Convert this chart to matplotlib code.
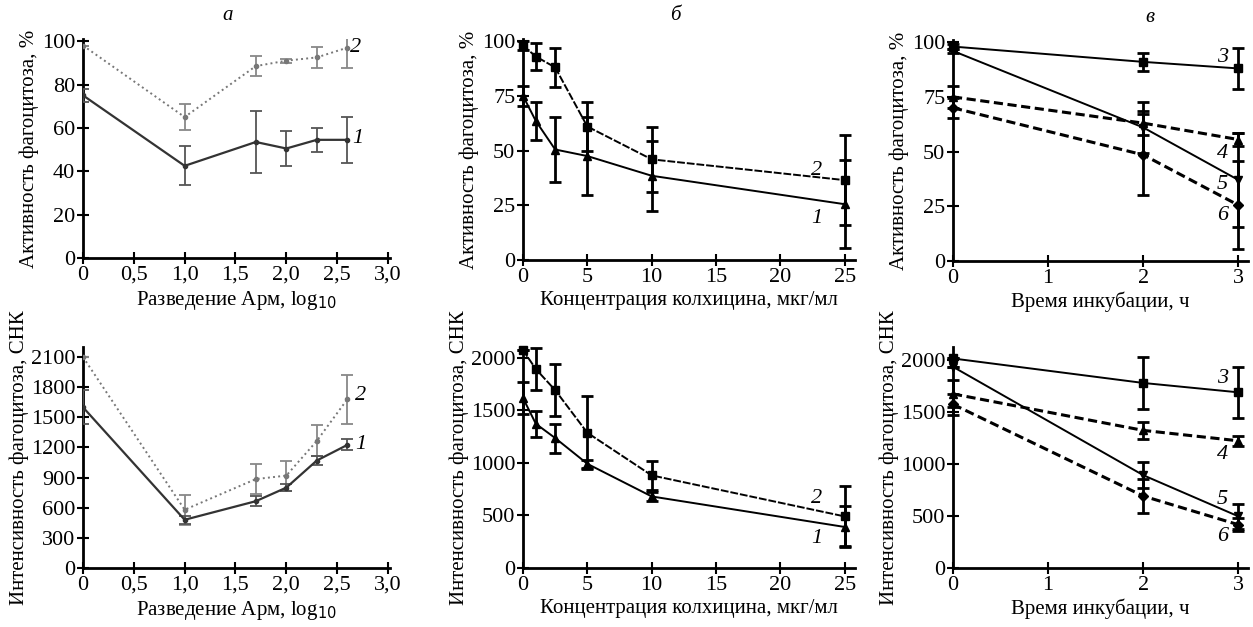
import matplotlib
matplotlib.use('Agg')
import matplotlib.pyplot as plt

plt.rcParams['font.family'] = ['Liberation Serif', 'DejaVu Serif']
plt.rcParams['font.size'] = 13

# panel a: dilution of Arm, log10
a_x = [0, 1.0, 1.7, 2.0, 2.3, 2.6]
a_act_2 = [98, 65, 88.5, 91, 92.5, 97]
a_act_2_err = [0, 6, 4.5, 1, 5, 9.5]
a_act_1 = [75, 42.5, 53.5, 50.5, 54.5, 54.5]
a_act_1_err = [3, 9, 14.5, 8, 5.5, 10.5]
a_int_2 = [2100, 580, 885, 920, 1265, 1680]
a_int_2_err = [0, 150, 150, 150, 155, 245]
a_int_1 = [1600, 480, 665, 800, 1070, 1225]
a_int_1_err = [170, 40, 50, 35, 40, 55]

# panel b: colchicine concentration
b_x = [0, 1, 2.5, 5, 10, 25]
b_act_2 = [98, 93, 88, 61, 46, 36.5]
b_act_2_err = [2, 6, 9, 11, 15, 20.5]
b_act_1 = [75, 63.5, 50.5, 47.5, 38.5, 25.5]
b_act_1_err = [4.5, 8.5, 15, 18, 16, 20]
b_int_2 = [2070, 1890, 1690, 1285, 880, 490]
b_int_2_err = [0, 200, 250, 345, 140, 285]
b_int_1 = [1615, 1370, 1235, 990, 680, 390]
b_int_1_err = [150, 125, 138, 40, 45, 195]

# panel v: incubation time
v_x = [0, 2, 3]
v_act_3 = [98, 91, 88]
v_act_3_err = [1, 4, 9.5]
v_act_4 = [75, 63, 55.5]
v_act_4_err = [5, 5.5, 3]
v_act_5 = [96, 61, 37]
v_act_5_err = [1, 11.5, 21.5]
v_act_6 = [70, 48.5, 25.5]
v_act_6_err = [4.5, 18.5, 20]
v_int_3 = [2010, 1775, 1685]
v_int_3_err = [0, 245, 245]
v_int_4 = [1670, 1320, 1220]
v_int_4_err = [130, 80, 50]
v_int_5 = [1930, 890, 495]
v_int_5_err = [0, 125, 120]
v_int_6 = [1570, 690, 415]
v_int_6_err = [100, 160, 60]

W, H = 1253, 627
fig = plt.figure(figsize=(W / 100, H / 100), dpi=100)

TICK = 16
LAB = 15


def make_ax(left, right, top, bottom):
    ax = fig.add_axes([left / W, 1 - bottom / H, (right - left) / W, (bottom - top) / H])
    ax.spines['top'].set_visible(False)
    ax.spines['right'].set_visible(False)
    ax.spines['left'].set_linewidth(2)
    ax.spines['bottom'].set_linewidth(2)
    ax.tick_params(direction='inout', length=9, width=1.5, labelsize=TICK, pad=1)
    return ax


def series(ax, x, y, err, clip=False, **kw):
    ax.errorbar(x, y, yerr=err, capsize=kw.pop('capsize', 4), capthick=kw.pop('capthick', 2),
                elinewidth=kw.pop('elinewidth', 2), ecolor=kw.pop('ecolor', 'black'),
                clip_on=clip, zorder=3, **kw)


def labels(ax, items):
    for x, y, s in items:
        ax.text(x, y, s, fontsize=16, style='italic', ha='center', va='center')


# ---- panel a ----
gray_d = '#777777'
gray_s = '#333333'
for row, (ys2, e2, ys1, e1, ylim, yt) in enumerate([
        (a_act_2, a_act_2_err, a_act_1, a_act_1_err, (0, 101), [0, 20, 40, 60, 80, 100]),
        (a_int_2, a_int_2_err, a_int_1, a_int_1_err, (0, 2200), [0, 300, 600, 900, 1200, 1500, 1800, 2100])]):
    top, bottom = (39, 258) if row == 0 else (347, 568)
    ax = make_ax(83, 390, top, bottom)
    series(ax, a_x, ys2, e2, clip=True, color=gray_d, ls=':', lw=1.4, marker='o', ms=3,
           ecolor='#888888', elinewidth=1.3, capthick=1.3)
    series(ax, a_x, ys1, e1, clip=True, color=gray_s, ls='-', lw=1.6, marker='o', ms=3,
           ecolor='#555555', elinewidth=1.3, capthick=1.3)
    ax.set_xlim(0, 3.02)
    ax.set_ylim(*ylim)
    ax.set_xticks([0, 0.5, 1.0, 1.5, 2.0, 2.5, 3.0])
    ax.set_xticklabels(['0', '0,5', '1,0', '1,5', '2,0', '2,5', '3,0'])
    ax.set_yticks(yt)
    ax.set_xlabel('Разведение Арм, log$_{10}$', fontsize=LAB, labelpad=3)
    if row == 0:
        ax.set_ylabel('Активность фагоцитоза, %', fontsize=LAB, labelpad=2)
        labels(ax, [(2.68, 97, '2'), (2.7, 55, '1')])
    else:
        ax.set_ylabel('Интенсивность фагоцитоза, СНК', fontsize=LAB, labelpad=1)
        labels(ax, [(2.73, 1720, '2'), (2.73, 1230, '1')])

# ---- panel b ----
for row, (ys2, e2, ys1, e1, ylim, yt) in enumerate([
        (b_act_2, b_act_2_err, b_act_1, b_act_1_err, (0, 101), [0, 25, 50, 75, 100]),
        (b_int_2, b_int_2_err, b_int_1, b_int_1_err, (0, 2100), [0, 500, 1000, 1500, 2000])]):
    top, bottom = (39, 260) if row == 0 else (347, 568)
    ax = make_ax(523, 855, top, bottom)
    series(ax, b_x, ys2, e2, color='black', ls=(0, (4, 1)), lw=1.4, marker='s', ms=6)
    series(ax, b_x, ys1, e1, color='black', ls='-', lw=1.4, marker='^', ms=6)
    ax.set_xlim(0, 25.8)
    ax.set_ylim(*ylim)
    ax.set_xticks([0, 5, 10, 15, 20, 25])
    ax.set_yticks(yt)
    ax.set_xlabel('Концентрация колхицина, мкг/мл', fontsize=LAB, labelpad=3)
    if row == 0:
        ax.set_ylabel('Активность фагоцитоза, %', fontsize=LAB, labelpad=2)
        labels(ax, [(22.8, 41, '2'), (22.8, 19, '1')])
    else:
        ax.set_ylabel('Интенсивность фагоцитоза, СНК', fontsize=LAB, labelpad=1)
        labels(ax, [(22.8, 660, '2'), (22.8, 280, '1')])

# ---- panel v ----
for row, data in enumerate([
        [(v_act_3, v_act_3_err), (v_act_4, v_act_4_err), (v_act_5, v_act_5_err), (v_act_6, v_act_6_err)],
        [(v_int_3, v_int_3_err), (v_int_4, v_int_4_err), (v_int_5, v_int_5_err), (v_int_6, v_int_6_err)]]):
    top, bottom = (40, 261) if row == 0 else (347, 568)
    ax = make_ax(953, 1248, top, bottom)
    styles = [dict(ls='-', lw=1.4, marker='s'),
              dict(ls=(0, (3, 1.5)), lw=2.2, marker='^'),
              dict(ls='-', lw=1.4, marker='v'),
              dict(ls=(0, (3, 1.5)), lw=2.2, marker='D', ms=5)]
    for (ys, err), st in zip(data, styles):
        st = dict(st)
        ms = st.pop('ms', 6)
        series(ax, v_x, ys, err, color='black', ms=ms, **st)
    ax.set_xlim(0, 3.1)
    ax.set_xticks([0, 1, 2, 3])
    if row == 0:
        ax.set_ylim(0, 101)
        ax.set_yticks([0, 25, 50, 75, 100])
        ax.set_ylabel('Активность фагоцитоза, %', fontsize=LAB, labelpad=2)
        labels(ax, [(2.83, 93, '3'), (2.83, 49, '4'), (2.83, 35, '5'), (2.83, 21, '6')])
    else:
        ax.set_ylim(0, 2120)
        ax.set_yticks([0, 500, 1000, 1500, 2000])
        ax.set_ylabel('Интенсивность фагоцитоза, СНК', fontsize=LAB, labelpad=1)
        labels(ax, [(2.83, 1820, '3'), (2.83, 1090, '4'), (2.83, 660, '5'), (2.83, 300, '6')])
    ax.set_xlabel('Время инкубации, ч', fontsize=LAB, labelpad=3)

fig.text(228 / W, 1 - 15 / H, 'а', fontsize=15, style='italic', ha='center', va='center')
fig.text(675 / W, 1 - 15 / H, 'б', fontsize=15, style='italic', ha='center', va='center')
fig.text(1150 / W, 1 - 17 / H, 'в', fontsize=15, style='italic', ha='center', va='center')

fig.savefig('out.png', dpi=100)
